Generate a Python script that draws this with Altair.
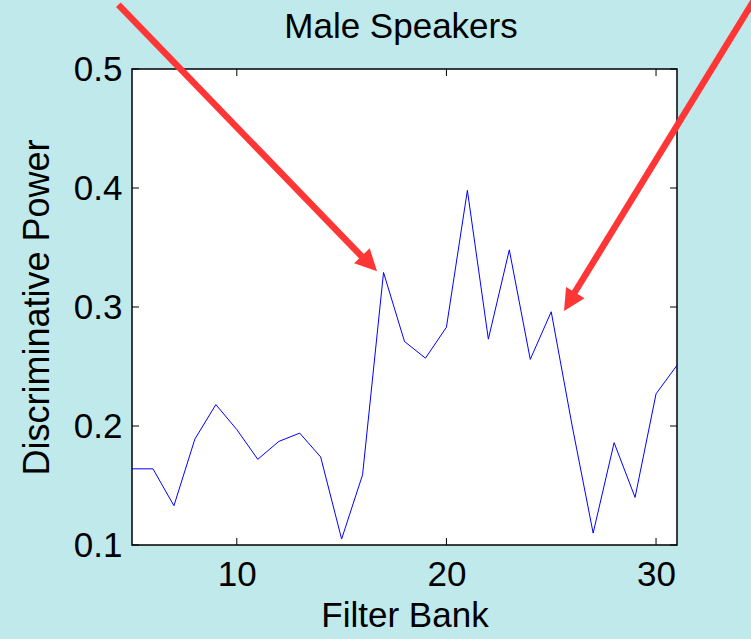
import altair as alt
import pandas as pd

# ---- data ----
filter_bank = [5, 6, 7, 8, 9, 10, 11, 12, 13, 14, 15, 16, 17, 18, 19, 20,
               21, 22, 23, 24, 25, 26, 27, 28, 29, 30, 31]
disc_power = [0.164, 0.164, 0.133, 0.189, 0.218, 0.197, 0.172, 0.187, 0.194,
              0.174, 0.105, 0.159, 0.329, 0.271, 0.257, 0.283, 0.398, 0.273,
              0.348, 0.256, 0.296, 0.200, 0.110, 0.186, 0.140, 0.227, 0.251]

x_ticks = [10, 20, 30]
y_ticks = [0.1, 0.2, 0.3, 0.4, 0.5]

# annotation arrows (data coordinates)
arrow_x_start = [4.35, 34.96]
arrow_y_start = [0.554, 0.566]
arrow_x_end = [16.25, 25.93]
arrow_y_end = [0.3372, 0.3068]
arrow_tip_x = [16.69, 25.61]
arrow_tip_y = [0.330, 0.2966]
arrow_angle = [45.8, 121.4]

title_text = "Male Speakers"
x_title = "Filter Bank"
y_title = "Discriminative Power"

W, H = 545, 476
FONT = "Liberation Sans"
BG = "#BFE9EA"
RED = "#FF3636"

line_df = pd.DataFrame({"fb": filter_bank, "dp": disc_power})
arrow_df = pd.DataFrame({"x": arrow_x_start, "y": arrow_y_start,
                         "x2": arrow_x_end, "y2": arrow_y_end,
                         "tx": arrow_tip_x, "ty": arrow_tip_y,
                         "ang": arrow_angle})
xt_df = pd.DataFrame({"t": x_ticks})
yt_df = pd.DataFrame({"t": y_ticks})

xscale = alt.Scale(domain=[5, 31], nice=False, zero=False)
yscale = alt.Scale(domain=[0.1, 0.5], nice=False, zero=False)

xaxis = alt.Axis(values=x_ticks, title=x_title, grid=False, domain=False,
                 ticks=False, labelFontSize=35, labelPadding=12,
                 titleFontSize=35, titleFontWeight="normal", titlePadding=6,
                 labelColor="black", titleColor="black", format="d",
                 labelFont=FONT, titleFont=FONT)
yaxis = alt.Axis(values=y_ticks, title=y_title, grid=False, domain=False,
                 ticks=False, labelFontSize=35, labelPadding=10,
                 titleFontSize=36, titleFontWeight="normal", titlePadding=17,
                 labelColor="black", titleColor="black", format=".1f",
                 labelFont=FONT, titleFont=FONT)

line = alt.Chart(line_df).mark_line(color="#0000FF", strokeWidth=1).encode(
    x=alt.X("fb:Q", scale=xscale, axis=xaxis),
    y=alt.Y("dp:Q", scale=yscale, axis=yaxis),
)

# inward tick marks on all four sides
tick_bottom = alt.Chart(xt_df).mark_rule(color="black", strokeWidth=1).encode(
    x=alt.X("t:Q", scale=xscale), y=alt.value(H), y2=alt.value(H - 7))
tick_top = alt.Chart(xt_df).mark_rule(color="black", strokeWidth=1).encode(
    x=alt.X("t:Q", scale=xscale), y=alt.value(0), y2=alt.value(7))
tick_left = alt.Chart(yt_df).mark_rule(color="black", strokeWidth=1).encode(
    y=alt.Y("t:Q", scale=yscale), x=alt.value(0), x2=alt.value(7))
tick_right = alt.Chart(yt_df).mark_rule(color="black", strokeWidth=1).encode(
    y=alt.Y("t:Q", scale=yscale), x=alt.value(W), x2=alt.value(W - 7))

shaft = alt.Chart(arrow_df).mark_rule(color=RED, strokeWidth=6.5, clip=False).encode(
    x=alt.X("x:Q", scale=xscale), y=alt.Y("y:Q", scale=yscale),
    x2="x2:Q", y2="y2:Q")
head = alt.Chart(arrow_df).mark_point(
    shape="M0,0L-2,-1L-2,1Z", size=470, filled=True, color=RED,
    opacity=1, strokeWidth=0, clip=False).encode(
    x=alt.X("tx:Q", scale=xscale), y=alt.Y("ty:Q", scale=yscale),
    angle=alt.Angle("ang:Q", scale=None))

title = alt.Chart(pd.DataFrame({"s": [title_text]})).mark_text(
    fontSize=35, font=FONT, color="black", baseline="alphabetic",
    align="center").encode(
    text="s:N", x=alt.value(269), y=alt.value(-31))

chart = alt.layer(line, tick_bottom, tick_top, tick_left, tick_right,
                  shaft, head, title).properties(
    width=W, height=H,
    background=BG,
    padding={"left": 132, "top": 69, "right": 751 - 132 - W, "bottom": 639 - 69 - H},
    autosize=alt.AutoSizeParams(type="none"),
).configure_view(
    stroke="black", strokeWidth=1.5, fill="white"
)

chart.save("out.html", embed_options={"renderer": "svg", "actions": False})
